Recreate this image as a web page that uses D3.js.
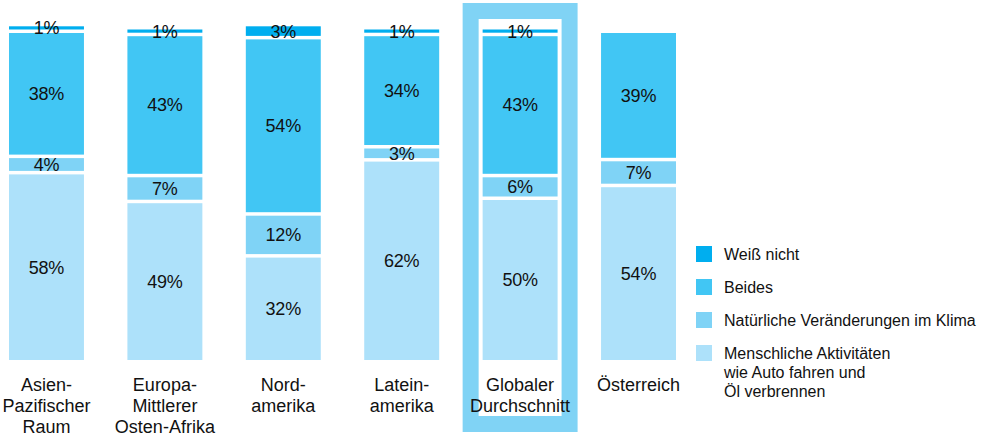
<!DOCTYPE html>
<html>
<head>
<meta charset="utf-8">
<script src="https://cdn.jsdelivr.net/npm/d3@7"></script>
<style>
  body { margin: 0; background: #fff; }
  svg text { font-family: "Liberation Sans", Arial, sans-serif; fill: #111; }
</style>
</head>
<body>
<svg id="chart" width="987" height="438"></svg>
<script>
// categories (label lines)
const regions = [
  ["Asien-", "Pazifischer", "Raum"],
  ["Europa-", "Mittlerer", "Osten-Afrika"],
  ["Nord-", "amerika"],
  ["Latein-", "amerika"],
  ["Globaler", "Durchschnitt"],
  ["Österreich"]
];
const regionKeys = regions.map(r => r.join(" "));
const highlighted = "Globaler Durchschnitt";

// series, bottom to top
const seriesNames = [
  "Menschliche Aktivitäten wie Auto fahren und Öl verbrennen",
  "Natürliche Veränderungen im Klima",
  "Beides",
  "Weiß nicht"
];
const menschlich = [58, 49, 32, 62, 50, 54];
const natuerlich = [4, 7, 12, 3, 6, 7];
const beides = [38, 43, 54, 34, 43, 39];
const weissNicht = [1, 1, 3, 1, 1, 0];

const legendLines = [
  ["Weiß nicht"],
  ["Beides"],
  ["Natürliche Veränderungen im Klima"],
  ["Menschliche Aktivitäten", "wie Auto fahren und", "Öl verbrennen"]
];

const colors = ["#ade1fa", "#7fd3f6", "#41c6f4", "#00aeef"];
const highlightColor = "#80d3f5";

const table = regionKeys.map((k, i) => ({
  region: k,
  [seriesNames[0]]: menschlich[i],
  [seriesNames[1]]: natuerlich[i],
  [seriesNames[2]]: beides[i],
  [seriesNames[3]]: weissNicht[i]
}));

const stack = d3.stack().keys(seriesNames)(table);

const svg = d3.select("#chart");

const x = d3.scaleBand()
  .domain(regionKeys)
  .range([9, 676])
  .paddingInner(0.367)
  .paddingOuter(0);

const y = d3.scaleLinear().domain([0, 100]).range([360, 40]);
const gap = 3.5;

// highlight frame
svg.append("rect")
  .attr("x", x(highlighted) - 20)
  .attr("y", 3)
  .attr("width", x.bandwidth() + 40)
  .attr("height", 429)
  .attr("fill", highlightColor);
svg.append("rect")
  .attr("x", x(highlighted) - 4)
  .attr("y", 19)
  .attr("width", x.bandwidth() + 8)
  .attr("height", 397)
  .attr("fill", "#fff");

// segments, each layer shifted up by a small white gap
const layers = svg.selectAll("g.layer")
  .data(stack)
  .join("g")
  .attr("class", "layer")
  .attr("fill", (d, i) => colors[i]);

layers.each(function (layer, li) {
  const g = d3.select(this);
  const segs = layer.filter(d => d[1] - d[0] > 0);
  g.selectAll("rect")
    .data(segs)
    .join("rect")
    .attr("x", d => x(d.data.region))
    .attr("width", x.bandwidth())
    .attr("y", d => y(d[1]) - li * gap)
    .attr("height", d => y(d[0]) - y(d[1]));

  g.selectAll("text")
    .data(segs)
    .join("text")
    .attr("x", d => x(d.data.region) + x.bandwidth() / 2)
    .attr("y", d => (y(d[0]) + y(d[1])) / 2 - li * gap)
    .attr("dy", "0.36em")
    .attr("text-anchor", "middle")
    .style("font-size", "18px")
    .style("letter-spacing", "-0.2px")
    .text(d => (d[1] - d[0]) + "%");
});

// category labels
svg.append("g")
  .selectAll("text")
  .data(regions)
  .join("text")
  .attr("x", (d, i) => x(regionKeys[i]) + x.bandwidth() / 2)
  .attr("y", 391)
  .attr("text-anchor", "middle")
  .style("font-size", "18px")
  .selectAll("tspan")
  .data(d => d)
  .join("tspan")
  .attr("x", function () { return d3.select(this.parentNode).attr("x"); })
  .attr("dy", (d, i) => i === 0 ? 0 : 21)
  .text(d => d);

// legend
const legendColors = colors.slice().reverse();
const legend = svg.append("g")
  .selectAll("g")
  .data(legendLines)
  .join("g")
  .attr("transform", (d, i) => `translate(696, ${246 + i * 33})`);

legend.append("rect")
  .attr("width", 16)
  .attr("height", 16)
  .attr("fill", (d, i) => legendColors[i]);

legend.append("text")
  .attr("x", 28)
  .attr("y", 14)
  .style("font-size", "16px")
  .selectAll("tspan")
  .data(d => d)
  .join("tspan")
  .attr("x", 28)
  .attr("dy", (d, i) => i === 0 ? 0 : 19)
  .text(d => d);
</script>
</body>
</html>
